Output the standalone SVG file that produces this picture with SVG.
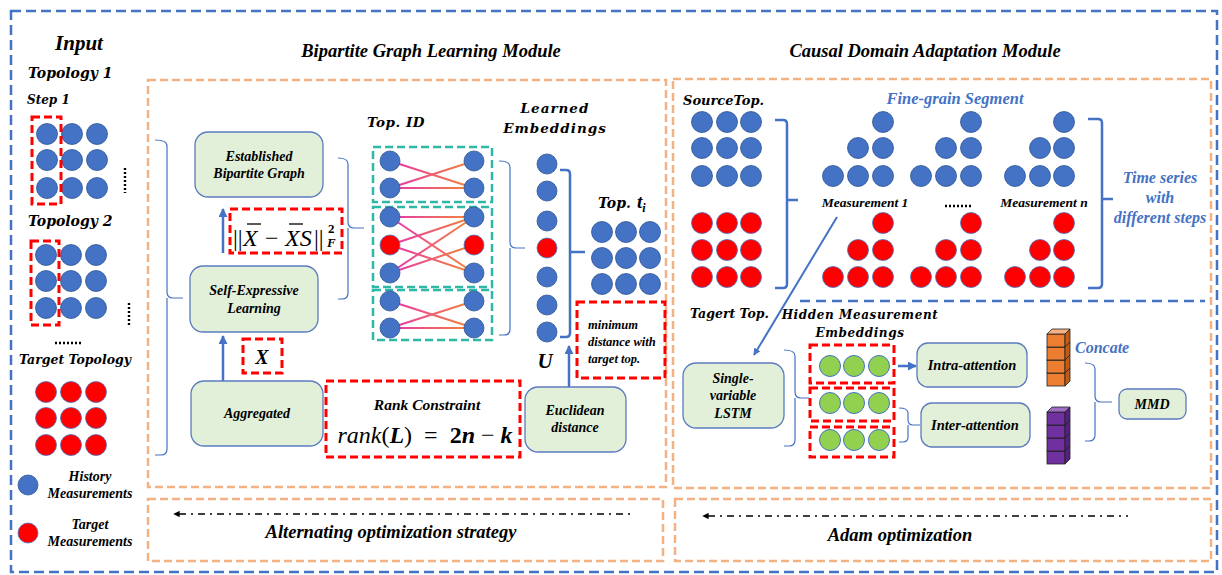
<svg xmlns="http://www.w3.org/2000/svg" width="1222" height="575" viewBox="0 0 1222 575">
<defs>
<style>
.t{font-family:"Liberation Serif","Times New Roman",serif;font-weight:bold;font-style:italic;fill:#000}
.c{font-family:"DejaVu Serif","Liberation Serif",serif;font-weight:bold;font-style:italic;fill:#000}
.m{font-family:"Liberation Serif","Times New Roman",serif;fill:#000}
.cb{fill:#4472C4;stroke:#2F5597;stroke-width:0.8}
.cr{fill:#FF0000;stroke:#4472C4;stroke-width:0.8}
.cg{fill:#92D050;stroke:#4472C4;stroke-width:1}
.box{fill:#E2F0D9;stroke:#5B7BBE;stroke-width:1.3}
.ob{fill:none;stroke:#F4B183;stroke-width:2.5;stroke-dasharray:8 4}
.bd{fill:none;stroke:#4472C4;stroke-width:2.5;stroke-dasharray:10 5}
.rd{fill:none;stroke:#FF0000;stroke-width:3;stroke-dasharray:8 4}
.td{fill:none;stroke:#2EB8A6;stroke-width:2.5;stroke-dasharray:8 4}
.br{fill:none;stroke:#4472C4;stroke-width:1.2}
.bk{fill:none;stroke:#4472C4;stroke-width:2.5}
.ar{fill:none;stroke:#4472C4;stroke-width:2.5;marker-end:url(#ah)}
.ed{stroke:url(#eg);stroke-width:2;fill:none}
.dd{stroke:#000;stroke-width:1.6;stroke-dasharray:7 5 2 5;fill:none;marker-start:url(#ak)}
.dots{stroke:#000;stroke-width:2.4;stroke-dasharray:2 2;fill:none}
.blt{fill:#4472C4}
</style>
<linearGradient id="eg" gradientUnits="userSpaceOnUse" x1="390" y1="0" x2="474" y2="0">
<stop offset="0" stop-color="#E834B0"/><stop offset="1" stop-color="#F28A30"/>
</linearGradient>
<marker id="ah" viewBox="0 0 10 10" refX="9" refY="5" markerWidth="3.6" markerHeight="3.6" orient="auto">
<path d="M0,0 L10,5 L0,10 z" fill="#4472C4"/>
</marker>
<marker id="ak" viewBox="0 0 10 10" refX="1" refY="5" markerWidth="4" markerHeight="4" orient="auto-start-reverse">
<path d="M0,0 L10,5 L0,10 z" fill="#000"/>
</marker>
<!-- stacked feature cubes -->
<g id="cubeO">
<rect x="0" y="5" width="18" height="13" fill="#ED7D31" stroke="#222" stroke-width="0.8"/>
<polygon points="0,5 5,0 23,0 18,5" fill="#F4B183" stroke="#222" stroke-width="0.8"/>
<polygon points="18,5 23,0 23,13 18,18" fill="#C55A11" stroke="#222" stroke-width="0.8"/>
</g>
<g id="cubeP">
<rect x="0" y="5" width="18" height="13" fill="#7030A0" stroke="#222" stroke-width="0.8"/>
<polygon points="0,5 5,0 23,0 18,5" fill="#9E6BC5" stroke="#222" stroke-width="0.8"/>
<polygon points="18,5 23,0 23,13 18,18" fill="#552080" stroke="#222" stroke-width="0.8"/>
</g>
</defs>

<rect width="1222" height="575" fill="#fff"/>

<!-- frames -->
<g id="frames">
<rect class="bd" x="11" y="11" width="1206" height="561"/>
<rect class="ob" x="148" y="80" width="518" height="407"/>
<rect class="ob" x="673" y="79" width="538" height="409"/>
<rect class="ob" x="148" y="499" width="515" height="62"/>
<rect class="ob" x="675" y="499" width="536" height="62"/>
<line x1="800" y1="301" x2="1205" y2="301" stroke="#4472C4" stroke-width="2.5" stroke-dasharray="10 6"/>
</g>

<!-- titles -->
<g id="titles">
<text class="t" x="79" y="50" font-size="21" text-anchor="middle">Input</text>
<text class="t" x="431" y="57" font-size="18.5" text-anchor="middle">Bipartite Graph Learning Module</text>
<text class="t" x="925" y="57" font-size="18.5" text-anchor="middle">Causal Domain Adaptation Module</text>
</g>

<!-- input column -->
<g id="input">
<text class="c" x="28" y="78" font-size="14">Topology 1</text>
<text class="c" x="27" y="104" font-size="12">Step 1</text>
<g>
<circle class="cb" cx="47" cy="134" r="10.5"/><circle class="cb" cx="72" cy="134" r="10.5"/><circle class="cb" cx="97" cy="134" r="10.5"/>
<circle class="cb" cx="47" cy="160" r="10.5"/><circle class="cb" cx="72" cy="160" r="10.5"/><circle class="cb" cx="97" cy="160" r="10.5"/>
<circle class="cb" cx="47" cy="188" r="10.5"/><circle class="cb" cx="72" cy="188" r="10.5"/><circle class="cb" cx="97" cy="188" r="10.5"/>
</g>
<rect class="rd" x="32" y="117" width="29" height="87"/>
<line class="dots" x1="125" y1="168" x2="125" y2="193"/>
<text class="c" x="28" y="226" font-size="14">Topology 2</text>
<g>
<circle class="cb" cx="46" cy="255" r="10.5"/><circle class="cb" cx="71" cy="255" r="10.5"/><circle class="cb" cx="96" cy="255" r="10.5"/>
<circle class="cb" cx="46" cy="281" r="10.5"/><circle class="cb" cx="71" cy="281" r="10.5"/><circle class="cb" cx="96" cy="281" r="10.5"/>
<circle class="cb" cx="46" cy="308" r="10.5"/><circle class="cb" cx="71" cy="308" r="10.5"/><circle class="cb" cx="96" cy="308" r="10.5"/>
</g>
<rect class="rd" x="31" y="241" width="28" height="84"/>
<line class="dots" x1="129" y1="303" x2="129" y2="327"/>
<line class="dots" x1="55" y1="343" x2="81" y2="343"/>
<text class="c" x="19" y="364" font-size="12.5">Target Topology</text>
<g>
<circle class="cr" cx="46" cy="392" r="10.5"/><circle class="cr" cx="71" cy="392" r="10.5"/><circle class="cr" cx="96" cy="392" r="10.5"/>
<circle class="cr" cx="46" cy="418" r="10.5"/><circle class="cr" cx="71" cy="418" r="10.5"/><circle class="cr" cx="96" cy="418" r="10.5"/>
<circle class="cr" cx="46" cy="445" r="10.5"/><circle class="cr" cx="71" cy="445" r="10.5"/><circle class="cr" cx="96" cy="445" r="10.5"/>
</g>
</g>

<!-- legend -->
<g id="legend">
<circle class="cb" cx="28" cy="485" r="10"/>
<text class="t" x="90" y="481" font-size="14" text-anchor="middle">History</text>
<text class="t" x="90" y="498" font-size="14" text-anchor="middle">Measurements</text>
<circle class="cr" cx="28" cy="533" r="10"/>
<text class="t" x="90" y="529" font-size="14" text-anchor="middle">Target</text>
<text class="t" x="90" y="546" font-size="14" text-anchor="middle">Measurements</text>
</g>

<!-- connectors -->
<g id="connectors">
<path class="br" d="M155,140 Q167,140 167,146 L167,292 Q167,298 173,298 L183,298 M167,298 L167,449 Q167,455 161,455 L155,455"/>
<path class="br" d="M338,158 Q348,158 348,164 L348,222 Q348,228 354,228 L364,228 M348,228 L348,293 Q348,299 342,299 L338,299"/>
<path class="br" d="M499,161 Q510,161 510,167 L510,242 Q510,248 516,248 L525,248 M510,248 L510,329 Q510,335 504,335 L499,335"/>
<path class="bk" d="M560,170 L566,170 Q570,170 570,174 L570,252 L585,252 M570,252 L570,333 Q570,337 566,337 L560,337"/>
<path class="bk" d="M775,120 L783,120 Q787,120 787,124 L787,200 L798,200 M787,200 L787,284 Q787,288 783,288 L775,288"/>
<path class="bk" d="M1088,119 L1098,119 Q1102,119 1102,123 L1102,199 L1113,199 M1102,199 L1102,284 Q1102,288 1098,288 L1088,288"/>
<path class="br" d="M784,350 Q795,350 795,356 L795,392 Q795,398 801,398 L809,398 M795,398 L795,440 Q795,446 789,446 L784,446"/>
<path class="br" d="M899,408 Q908,408 908,413 L908,420 Q908,425 913,425 L920,425 M908,425 L908,437 Q908,442 903,442 L899,442"/>
<path class="br" d="M1085,363 Q1095,363 1095,369 L1095,396 Q1095,402 1101,402 L1112,402 M1095,402 L1095,435 Q1095,441 1089,441 L1085,441"/>
<line class="ar" x1="223" y1="253" x2="223" y2="209"/>
<line class="ar" x1="223" y1="381" x2="223" y2="336"/>
<line class="ar" x1="569" y1="388" x2="569" y2="346"/>
<line x1="837" y1="217" x2="754" y2="355" stroke="#4472C4" stroke-width="2" marker-end="url(#ah)"/>
<line class="ar" x1="898" y1="366" x2="916" y2="366"/>
<line class="dd" x1="179" y1="514" x2="631" y2="514"/>
<line class="dd" x1="708" y1="516" x2="1128" y2="516"/>
</g>

<!-- bipartite graph learning module -->
<g id="established-graph">
<rect class="box" x="195" y="132" width="128" height="65" rx="13"/>
<text class="t" x="259" y="161" font-size="14" text-anchor="middle">Established</text>
<text class="t" x="259" y="178" font-size="14" text-anchor="middle">Bipartite Graph</text>
</g>
<g id="reconstruction-loss">
<rect class="rd" x="230" y="209" width="112" height="44"/>
<text class="m" x="233" y="246" font-size="24">||</text>
<text class="m" x="243" y="246" font-size="24" font-style="italic">X</text>
<line x1="247" y1="224" x2="261" y2="224" stroke="#000" stroke-width="1.3"/>
<text class="m" x="265" y="246" font-size="24">−</text>
<text class="m" x="285" y="246" font-size="24" font-style="italic">XS</text>
<line x1="289" y1="224" x2="303" y2="224" stroke="#000" stroke-width="1.3"/>
<text class="m" x="314" y="246" font-size="24">||</text>
<text class="m" x="328" y="233" font-size="13" font-weight="bold">2</text>
<text class="m" x="327" y="247" font-size="13" font-weight="bold" font-style="italic">F</text>
</g>
<g id="self-expressive">
<rect class="box" x="190" y="266" width="128" height="66" rx="13"/>
<text class="t" x="254" y="295" font-size="14" text-anchor="middle">Self-Expressive</text>
<text class="t" x="254" y="313" font-size="14" text-anchor="middle">Learning</text>
</g>
<g id="input-x">
<rect class="rd" x="243" y="339" width="39" height="34"/>
<text class="t" x="262" y="364" font-size="20" text-anchor="middle">X</text>
</g>
<g id="aggregated">
<rect class="box" x="191" y="381" width="132" height="65" rx="13"/>
<text class="t" x="257" y="418" font-size="14" text-anchor="middle">Aggregated</text>
</g>
<g id="rank-constraint">
<rect class="rd" x="326" y="381" width="194" height="76"/>
<text class="t" x="427" y="410" font-size="15.5" text-anchor="middle">Rank Constraint</text>
<text class="m" x="425" y="443" font-size="24" text-anchor="middle" xml:space="preserve"><tspan font-style="italic">rank</tspan>(<tspan font-style="italic" font-weight="bold">L</tspan>)  =  <tspan font-weight="bold">2</tspan><tspan font-weight="bold" font-style="italic">n</tspan> − <tspan font-weight="bold" font-style="italic">k</tspan></text>
</g>

<g id="top-id">
<text class="c" x="396" y="127" font-size="13.5" text-anchor="middle" letter-spacing="0.5">Top. ID</text>
<rect class="td" x="373" y="147" width="119" height="55"/>
<rect class="td" x="373" y="207" width="119" height="80"/>
<rect class="td" x="373" y="290" width="119" height="50"/>
<line class="ed" x1="390" y1="161" x2="474" y2="188"/>
<line class="ed" x1="390" y1="188" x2="474" y2="161"/>
<line class="ed" x1="390" y1="188" x2="474" y2="188"/>
<line class="ed" x1="390" y1="217" x2="474" y2="217"/>
<line class="ed" x1="390" y1="217" x2="474" y2="273"/>
<line class="ed" x1="390" y1="245" x2="474" y2="217"/>
<line class="ed" x1="390" y1="245" x2="474" y2="273"/>
<line class="ed" x1="390" y1="273" x2="474" y2="217"/>
<line class="ed" x1="390" y1="273" x2="474" y2="245"/>
<line class="ed" x1="390" y1="301" x2="474" y2="328"/>
<line class="ed" x1="390" y1="328" x2="474" y2="301"/>
<line class="ed" x1="390" y1="328" x2="474" y2="328"/>
<circle class="cb" cx="390" cy="161" r="10"/><circle class="cb" cx="474" cy="161" r="10"/>
<circle class="cb" cx="390" cy="188" r="10"/><circle class="cb" cx="474" cy="188" r="10"/>
<circle class="cb" cx="390" cy="217" r="10"/><circle class="cb" cx="474" cy="217" r="10"/>
<circle class="cr" cx="390" cy="245" r="10"/><circle class="cr" cx="474" cy="245" r="10"/>
<circle class="cb" cx="390" cy="273" r="10"/><circle class="cb" cx="474" cy="273" r="10"/>
<circle class="cb" cx="390" cy="301" r="10"/><circle class="cb" cx="474" cy="301" r="10"/>
<circle class="cb" cx="390" cy="328" r="10"/><circle class="cb" cx="474" cy="328" r="10"/>
</g>

<g id="learned-embeddings">
<text class="c" x="555" y="113" font-size="13.5" text-anchor="middle" letter-spacing="1">Learned</text>
<text class="c" x="555" y="133" font-size="13.5" text-anchor="middle" letter-spacing="1">Embeddings</text>
<circle class="cb" cx="547" cy="164" r="10"/>
<circle class="cb" cx="547" cy="191" r="10"/>
<circle class="cb" cx="547" cy="221" r="10"/>
<circle class="cr" cx="547" cy="248" r="10"/>
<circle class="cb" cx="547" cy="277" r="10"/>
<circle class="cb" cx="547" cy="305" r="10"/>
<circle class="cb" cx="547" cy="332" r="10"/>
<text class="t" x="545" y="368" font-size="21" text-anchor="middle">U</text>
</g>

<g id="top-ti">
<text class="c" x="598" y="208" font-size="14">Top.</text>
<text class="t" x="637" y="208" font-size="19">t<tspan font-size="12" dy="4">i</tspan></text>
<circle class="cb" cx="602" cy="232" r="10.5"/><circle class="cb" cx="626" cy="232" r="10.5"/><circle class="cb" cx="650" cy="232" r="10.5"/>
<circle class="cb" cx="602" cy="258" r="10.5"/><circle class="cb" cx="626" cy="258" r="10.5"/><circle class="cb" cx="650" cy="258" r="10.5"/>
<circle class="cb" cx="602" cy="284" r="10.5"/><circle class="cb" cx="626" cy="284" r="10.5"/><circle class="cb" cx="650" cy="284" r="10.5"/>
</g>

<g id="min-distance">
<rect class="rd" x="577" y="302" width="88" height="76"/>
<text class="t" x="588" y="329" font-size="12.5">minimum</text>
<text class="t" x="588" y="346" font-size="12.5">distance with</text>
<text class="t" x="588" y="363" font-size="12.5">target top.</text>
</g>

<g id="euclidean">
<rect class="box" x="525" y="387" width="101" height="65" rx="13"/>
<text class="t" x="575" y="415" font-size="14" text-anchor="middle">Euclidean</text>
<text class="t" x="575" y="432" font-size="14" text-anchor="middle">distance</text>
</g>

<g id="alternating">
<text class="t" x="391" y="538" font-size="18.5" text-anchor="middle">Alternating optimization strategy</text>
</g>

<!-- causal domain adaptation module -->
<g id="source-top">
<text class="c" x="683" y="105" font-size="13">SourceTop.</text>
<circle class="cb" cx="702" cy="122" r="10.5"/><circle class="cb" cx="727" cy="122" r="10.5"/><circle class="cb" cx="751" cy="122" r="10.5"/>
<circle class="cb" cx="702" cy="148" r="10.5"/><circle class="cb" cx="727" cy="148" r="10.5"/><circle class="cb" cx="751" cy="148" r="10.5"/>
<circle class="cb" cx="702" cy="176" r="10.5"/><circle class="cb" cx="727" cy="176" r="10.5"/><circle class="cb" cx="751" cy="176" r="10.5"/>
<circle class="cr" cx="702" cy="223" r="10.5"/><circle class="cr" cx="727" cy="223" r="10.5"/><circle class="cr" cx="751" cy="223" r="10.5"/>
<circle class="cr" cx="702" cy="250" r="10.5"/><circle class="cr" cx="727" cy="250" r="10.5"/><circle class="cr" cx="751" cy="250" r="10.5"/>
<circle class="cr" cx="702" cy="277" r="10.5"/><circle class="cr" cx="727" cy="277" r="10.5"/><circle class="cr" cx="751" cy="277" r="10.5"/>
</g>

<g id="fine-grain-segment">
<text class="t blt" x="955" y="104" font-size="16.5" text-anchor="middle" style="fill:#4472C4">Fine-grain Segment</text>
<!-- measurement 1 -->
<circle class="cb" cx="883" cy="122" r="10.5"/>
<circle class="cb" cx="858" cy="148" r="10.5"/><circle class="cb" cx="883" cy="148" r="10.5"/>
<circle class="cb" cx="833" cy="176" r="10.5"/><circle class="cb" cx="858" cy="176" r="10.5"/><circle class="cb" cx="883" cy="176" r="10.5"/>
<circle class="cr" cx="883" cy="223" r="10.5"/>
<circle class="cr" cx="858" cy="250" r="10.5"/><circle class="cr" cx="883" cy="250" r="10.5"/>
<circle class="cr" cx="833" cy="277" r="10.5"/><circle class="cr" cx="858" cy="277" r="10.5"/><circle class="cr" cx="883" cy="277" r="10.5"/>
<text class="t" x="865" y="207" font-size="13.5" text-anchor="middle">Measurement 1</text>
<!-- intermediate measurement -->
<circle class="cb" cx="971" cy="122" r="10.5"/>
<circle class="cb" cx="946" cy="148" r="10.5"/><circle class="cb" cx="971" cy="148" r="10.5"/>
<circle class="cb" cx="921" cy="176" r="10.5"/><circle class="cb" cx="946" cy="176" r="10.5"/><circle class="cb" cx="971" cy="176" r="10.5"/>
<circle class="cr" cx="971" cy="223" r="10.5"/>
<circle class="cr" cx="946" cy="250" r="10.5"/><circle class="cr" cx="971" cy="250" r="10.5"/>
<circle class="cr" cx="921" cy="277" r="10.5"/><circle class="cr" cx="946" cy="277" r="10.5"/><circle class="cr" cx="971" cy="277" r="10.5"/>
<line class="dots" x1="945" y1="206" x2="972" y2="206"/>
<!-- measurement n -->
<circle class="cb" cx="1064" cy="122" r="10.5"/>
<circle class="cb" cx="1040" cy="148" r="10.5"/><circle class="cb" cx="1064" cy="148" r="10.5"/>
<circle class="cb" cx="1015" cy="176" r="10.5"/><circle class="cb" cx="1040" cy="176" r="10.5"/><circle class="cb" cx="1064" cy="176" r="10.5"/>
<circle class="cr" cx="1064" cy="223" r="10.5"/>
<circle class="cr" cx="1040" cy="250" r="10.5"/><circle class="cr" cx="1064" cy="250" r="10.5"/>
<circle class="cr" cx="1015" cy="277" r="10.5"/><circle class="cr" cx="1040" cy="277" r="10.5"/><circle class="cr" cx="1064" cy="277" r="10.5"/>
<text class="t" x="1044" y="207" font-size="13.5" text-anchor="middle">Measurement n</text>
</g>

<g id="time-series">
<text class="t" x="1160" y="183" font-size="16" text-anchor="middle" style="fill:#4472C4">Time series</text>
<text class="t" x="1160" y="203" font-size="16" text-anchor="middle" style="fill:#4472C4">with</text>
<text class="t" x="1160" y="223" font-size="16" text-anchor="middle" style="fill:#4472C4">different steps</text>
</g>

<g id="target-top">
<text class="c" x="690" y="318" font-size="12.5">Tagert Top.</text>
</g>

<g id="lstm">
<rect class="box" x="683" y="363" width="101" height="65" rx="13"/>
<text class="t" x="733" y="383" font-size="14" text-anchor="middle">Single-</text>
<text class="t" x="733" y="400" font-size="14" text-anchor="middle">variable</text>
<text class="t" x="733" y="418" font-size="14" text-anchor="middle">LSTM</text>
</g>

<g id="hidden-embeddings">
<text class="c" x="860" y="319" font-size="12" text-anchor="middle" letter-spacing="0.6">Hidden Measurement</text>
<text class="c" x="860" y="337" font-size="12" text-anchor="middle" letter-spacing="0.6">Embeddings</text>
<rect class="rd" x="810" y="345" width="84" height="38"/>
<rect class="rd" x="810" y="388" width="84" height="33"/>
<rect class="rd" x="810" y="427" width="84" height="30"/>
<circle class="cg" cx="830" cy="366" r="10.5"/><circle class="cg" cx="854" cy="366" r="10.5"/><circle class="cg" cx="879" cy="366" r="10.5"/>
<circle class="cg" cx="830" cy="403" r="10.5"/><circle class="cg" cx="854" cy="403" r="10.5"/><circle class="cg" cx="879" cy="403" r="10.5"/>
<circle class="cg" cx="830" cy="440" r="10.5"/><circle class="cg" cx="854" cy="440" r="10.5"/><circle class="cg" cx="879" cy="440" r="10.5"/>
</g>

<g id="intra-attention">
<rect class="box" x="917" y="343" width="110" height="44" rx="11"/>
<text class="t" x="972" y="370" font-size="14.5" text-anchor="middle">Intra-attention</text>
</g>

<g id="inter-attention">
<rect class="box" x="921" y="403" width="109" height="44" rx="11"/>
<text class="t" x="975" y="430" font-size="14.5" text-anchor="middle">Inter-attention</text>
</g>

<g id="concate">
<use href="#cubeO" x="1047" y="368"/>
<use href="#cubeO" x="1047" y="355"/>
<use href="#cubeO" x="1047" y="342"/>
<use href="#cubeO" x="1047" y="329"/>
<use href="#cubeP" x="1047" y="446"/>
<use href="#cubeP" x="1047" y="433"/>
<use href="#cubeP" x="1047" y="420"/>
<use href="#cubeP" x="1047" y="407"/>
<text class="t" x="1075" y="353" font-size="16" style="fill:#4472C4">Concate</text>
</g>

<g id="mmd">
<rect class="box" x="1119" y="389" width="67" height="30" rx="8"/>
<text class="t" x="1152" y="409" font-size="14" text-anchor="middle">MMD</text>
</g>

<g id="adam">
<text class="t" x="900" y="541" font-size="18.5" text-anchor="middle">Adam optimization</text>
</g>
</svg>
